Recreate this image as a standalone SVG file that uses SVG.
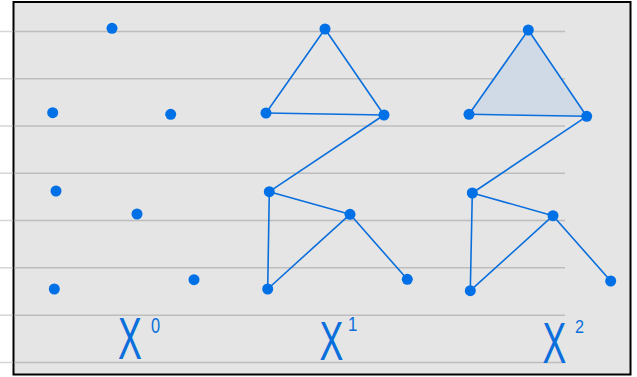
<svg xmlns="http://www.w3.org/2000/svg" width="637" height="377" viewBox="0 0 637 377">
<style>
.rule{stroke:#bdbdbd;stroke-width:1.5}
.rule-out{stroke:#d6d6d6;stroke-width:1.5}
.edge{stroke:#0a6fdc;stroke-width:1.6;fill:none;stroke-linecap:round}
.dot{fill:#0070e6}
.lbl{font-family:"Liberation Sans",Arial,sans-serif;fill:#0a6fdc}
.face{fill:#d0dae6;stroke:none}
</style>
<rect x="0" y="0" width="637" height="377" fill="#ffffff"/>
<rect x="13.5" y="2" width="617" height="372.5" fill="#e5e5e5" stroke="#000" stroke-width="2"/>
<g id="rules">
<line class="rule-out" x1="0" y1="31.5" x2="12.5" y2="31.5"/>
<line class="rule-out" x1="0" y1="78.7" x2="12.5" y2="78.7"/>
<line class="rule-out" x1="0" y1="126" x2="12.5" y2="126"/>
<line class="rule-out" x1="0" y1="173.2" x2="12.5" y2="173.2"/>
<line class="rule-out" x1="0" y1="220.5" x2="12.5" y2="220.5"/>
<line class="rule-out" x1="0" y1="267.8" x2="12.5" y2="267.8"/>
<line class="rule-out" x1="0" y1="315.2" x2="12.5" y2="315.2"/>
<line class="rule-out" x1="0" y1="362.5" x2="12.5" y2="362.5"/>
<line class="rule" x1="14.5" y1="31.5" x2="565" y2="31.5"/>
<line class="rule" x1="14.5" y1="78.7" x2="565" y2="78.7"/>
<line class="rule" x1="14.5" y1="126" x2="565" y2="126"/>
<line class="rule" x1="14.5" y1="173.2" x2="565" y2="173.2"/>
<line class="rule" x1="14.5" y1="220.5" x2="565" y2="220.5"/>
<line class="rule" x1="14.5" y1="267.8" x2="565" y2="267.8"/>
<line class="rule" x1="14.5" y1="315.2" x2="565" y2="315.2"/>
<line class="rule" x1="14.5" y1="362.5" x2="565" y2="362.5"/>
</g>
<g id="faces">
<polygon class="face" points="528.3,30 469,114.3 586.7,116.3"/>
</g>
<g id="connectors">
<line class="edge" x1="325" y1="29" x2="266" y2="113"/>
<line class="edge" x1="325" y1="29" x2="384" y2="115"/>
<line class="edge" x1="266" y1="113" x2="384" y2="115"/>
<line class="edge" x1="384" y1="115" x2="269.3" y2="191.7"/>
<line class="edge" x1="269.3" y1="191.7" x2="350" y2="214.3"/>
<line class="edge" x1="269.3" y1="191.7" x2="267.7" y2="289"/>
<line class="edge" x1="267.7" y1="289" x2="350" y2="214.3"/>
<line class="edge" x1="350" y1="214.3" x2="407.3" y2="279.3"/>
<line class="edge" x1="528.3" y1="30" x2="469" y2="114.3"/>
<line class="edge" x1="528.3" y1="30" x2="586.7" y2="116.3"/>
<line class="edge" x1="469" y1="114.3" x2="586.7" y2="116.3"/>
<line class="edge" x1="586.7" y1="116.3" x2="472.3" y2="193"/>
<line class="edge" x1="472.3" y1="193" x2="553" y2="215.7"/>
<line class="edge" x1="472.3" y1="193" x2="470.3" y2="290.7"/>
<line class="edge" x1="470.3" y1="290.7" x2="553" y2="215.7"/>
<line class="edge" x1="553" y1="215.7" x2="610.7" y2="281"/>
</g>
<g id="x0-nodes">
<circle class="dot" cx="112" cy="28.3" r="5.5"/>
<circle class="dot" cx="52.7" cy="112.7" r="5.5"/>
<circle class="dot" cx="170.7" cy="114.3" r="5.5"/>
<circle class="dot" cx="56" cy="191" r="5.5"/>
<circle class="dot" cx="137" cy="214" r="5.5"/>
<circle class="dot" cx="54.3" cy="289" r="5.5"/>
<circle class="dot" cx="194" cy="279.7" r="5.5"/>
</g>
<g id="x1-nodes">
<circle class="dot" cx="325" cy="29" r="5.5"/>
<circle class="dot" cx="266" cy="113" r="5.5"/>
<circle class="dot" cx="384" cy="115" r="5.5"/>
<circle class="dot" cx="269.3" cy="191.7" r="5.5"/>
<circle class="dot" cx="350" cy="214.3" r="5.5"/>
<circle class="dot" cx="267.7" cy="289" r="5.5"/>
<circle class="dot" cx="407.3" cy="279.3" r="5.5"/>
</g>
<g id="x2-nodes">
<circle class="dot" cx="528.3" cy="30" r="5.5"/>
<circle class="dot" cx="469" cy="114.3" r="5.5"/>
<circle class="dot" cx="586.7" cy="116.3" r="5.5"/>
<circle class="dot" cx="472.3" cy="193" r="5.5"/>
<circle class="dot" cx="553" cy="215.7" r="5.5"/>
<circle class="dot" cx="470.3" cy="290.7" r="5.5"/>
<circle class="dot" cx="610.7" cy="281" r="5.5"/>
</g>
<g id="label-x0">
<text class="lbl" font-size="34" text-anchor="middle" transform="translate(130,359) scale(1.05,1.72)">X</text>
<text class="lbl" font-size="21" transform="translate(151,332.5) scale(0.78,1.02)">0</text>
</g>
<g id="label-x1">
<text class="lbl" font-size="34" text-anchor="middle" transform="translate(331.5,360) scale(1.05,1.62)">X</text>
<text class="lbl" font-size="21" transform="translate(348,331) scale(0.8,1)">1</text>
</g>
<g id="label-x2">
<text class="lbl" font-size="34" text-anchor="middle" transform="translate(554.5,363) scale(1.05,1.7)">X</text>
<text class="lbl" font-size="18" transform="translate(575,332.5) scale(0.9,1)">2</text>
</g>
</svg>
